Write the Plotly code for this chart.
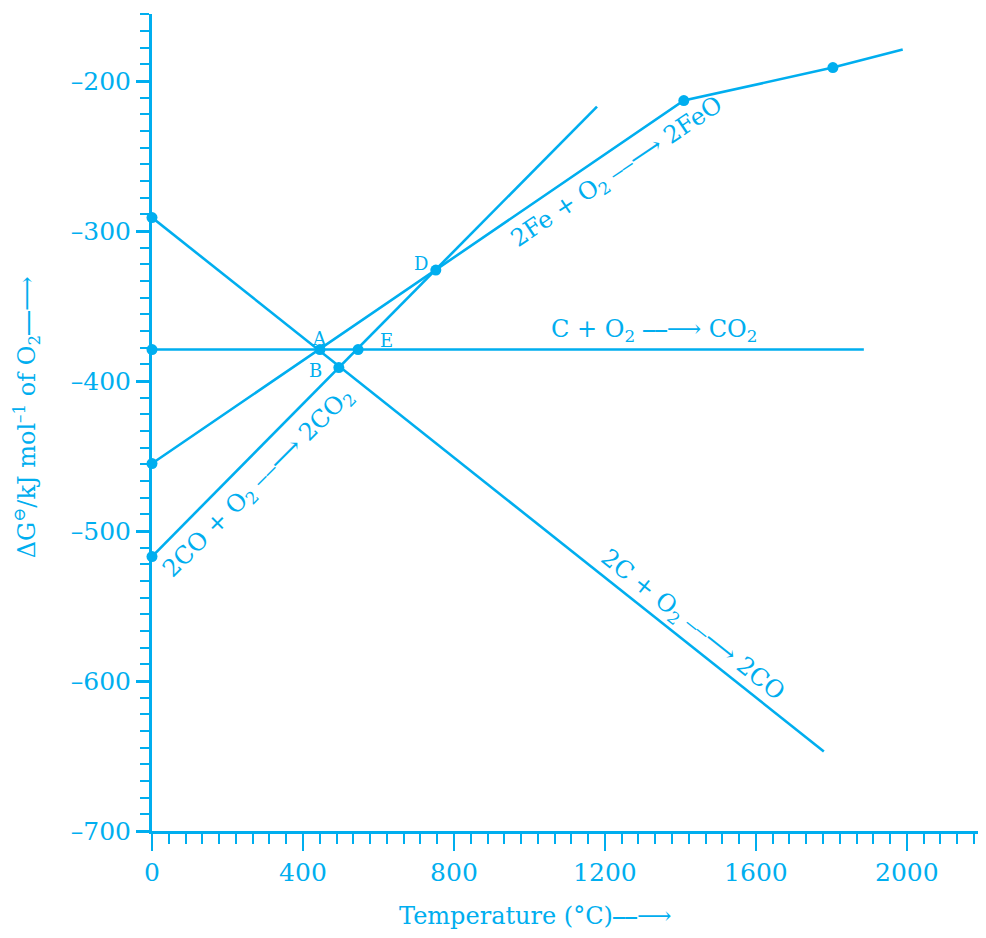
import plotly.graph_objects as go

COLOR = "#00AEEF"
FONT = "DejaVu Serif"

# 2C + O2 -> 2CO
c_co_x = [0, 1780]
c_co_y = [-291, -647]
# C + O2 -> CO2
c_co2_x = [0, 1886]
c_co2_y = [-379, -379]
# 2CO + O2 -> 2CO2
co_co2_x = [0, 1179]
co_co2_y = [-517, -217]
# 2Fe + O2 -> 2FeO
fe_x = [0, 1409, 1804, 1989]
fe_y = [-455, -213, -191, -179]

pts_x = [0, 0, 0, 0, 445, 495, 546, 752, 1409, 1804]
pts_y = [-291, -379, -455, -517, -379, -391, -379, -326, -213, -191]

xticks = [0, 400, 800, 1200, 1600, 2000]
yticks = [-200, -300, -400, -500, -600, -700]
yticklabels = ["–200", "–300", "–400", "–500", "–600", "–700"]

ARROW = "⎯⎯⟶"

fig = go.Figure()
for xs, ys in [(c_co_x, c_co_y), (c_co2_x, c_co2_y), (co_co2_x, co_co2_y), (fe_x, fe_y)]:
    fig.add_trace(go.Scatter(x=xs, y=ys, mode="lines",
                             line=dict(color=COLOR, width=2.6),
                             showlegend=False, hoverinfo="skip", cliponaxis=False))
fig.add_trace(go.Scatter(x=pts_x, y=pts_y, mode="markers",
                         marker=dict(color=COLOR, size=11),
                         showlegend=False, cliponaxis=False))

ann = []
def add(text, x, y, size=20, angle=0):
    ann.append(dict(text=text, x=x, y=y, xref="x", yref="y", showarrow=False,
                    textangle=angle, font=dict(family=FONT, size=size, color=COLOR)))

add("A", 445, -371.5, 18)
add("B", 434, -393, 18)
add("E", 620, -373, 18)
add("D", 713, -321.5, 18)
add("C + O<sub>2</sub> " + ARROW + " CO<sub>2</sub>", 1330, -366, 24)
add("2Fe + O<sub>2</sub> " + ARROW + " 2FeO", 1234, -261, 24, -34)
add("2CO + O<sub>2</sub> " + ARROW + " 2CO<sub>2</sub>", 281, -468, 24, -45)
add("2C + O<sub>2</sub> " + ARROW + " 2CO", 1430, -563, 24, 38.5)

# axis titles as paper annotations
ann.append(dict(text="Temperature (°C)" + ARROW, x=0.46, y=-0.104, xref="paper", yref="paper",
                xanchor="center", yanchor="middle", showarrow=False,
                font=dict(family=FONT, size=24, color=COLOR)))
ann.append(dict(text="ΔG<sup>⊖</sup>/kJ mol<sup>–1</sup> of O<sub>2</sub>" + ARROW,
                x=-0.151, y=0.5067, xref="paper", yref="paper", textangle=-90,
                xanchor="center", yanchor="middle", showarrow=False,
                font=dict(family=FONT, size=24, color=COLOR)))

fig.update_layout(
    width=978, height=922,
    margin=dict(l=144, r=1, t=6, b=99),
    plot_bgcolor="white", paper_bgcolor="white",
    annotations=ann,
    font=dict(family=FONT, color=COLOR),
    xaxis=dict(range=[0, 2207], showgrid=False, zeroline=False,
               showline=True, linecolor=COLOR, linewidth=3,
               ticks="outside", ticklen=17, tickwidth=2, tickcolor=COLOR,
               tickvals=xticks, ticktext=[str(v) for v in xticks],
               tickfont=dict(family=FONT, size=25, color=COLOR),
               minor=dict(dtick=400/9, ticks="outside", ticklen=10, tickwidth=1.5, tickcolor=COLOR)),
    yaxis=dict(range=[-700, -155.3], showgrid=False, zeroline=False,
               showline=True, linecolor=COLOR, linewidth=3,
               ticks="outside", ticklen=13, tickwidth=2.5, tickcolor=COLOR,
               tickvals=yticks, ticktext=yticklabels,
               tickfont=dict(family=FONT, size=25, color=COLOR),
               minor=dict(tick0=-700, dtick=100/9, ticks="outside", ticklen=9, tickwidth=1.5, tickcolor=COLOR)),
)
fig.write_html("out.html")
